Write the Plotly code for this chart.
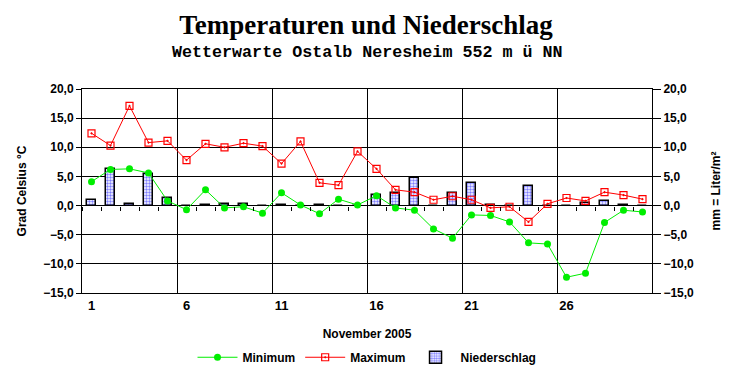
import plotly.graph_objects as go

days = list(range(1, 31))
t_min = [4.1, 6.2, 6.3, 5.6, 0.8, -0.7, 2.7, -0.4, -0.2, -1.3,
         2.2, 0.1, -1.4, 1.1, 0.1, 1.7, -0.4, -0.8, -4.0, -5.6,
         -1.6, -1.7, -2.8, -6.4, -6.6, -12.3, -11.6, -2.9, -0.8, -1.1]
t_max = [12.4, 10.3, 17.1, 10.8, 11.1, 7.8, 10.6, 10.0, 10.7, 10.2,
         7.2, 11.0, 3.9, 3.5, 9.3, 6.3, 2.7, 2.3, 1.0, 1.6,
         1.0, -0.4, -0.2, -2.8, 0.3, 1.3, 0.8, 2.3, 1.8, 1.1]
precip = [1.0, 6.3, 0.3, 5.4, 1.3, 0.0, 0.1, 0.3, 0.3, 0.0,
          0.1, 0.0, 0.1, 0.0, 0.0, 1.8, 2.2, 4.7, 0.0, 2.2,
          3.9, 0.1, 0.0, 3.4, 0.0, 0.0, 0.5, 0.8, 0.1, 0.0]
tick_days = [1, 6, 11, 16, 21, 26]
tick_labels = ["1", "6", "11", "16", "21", "26"]
minor_days = [d + 0.5 for d in range(0, 30)]

FONT = "Arial, Liberation Sans, sans-serif"
bold = dict(family=FONT, size=12, color="black", weight="bold")

fig = go.Figure()

# precipitation on the right (mm) axis, drawn beneath the temperature lines
fig.add_trace(go.Bar(
    x=days, y=precip, name="Niederschlag", yaxis="y", width=0.5,
    legendrank=3,
    marker=dict(color="white", line=dict(color="black", width=1.5),
                pattern=dict(shape=".", fgcolor="#0000ff", bgcolor="white",
                             size=3, solidity=0.5)),
))
fig.add_trace(go.Scatter(
    x=days, y=t_min, name="Minimum", mode="lines+markers", yaxis="y2",
    legendrank=1,
    line=dict(color="#00ee00", width=1),
    marker=dict(symbol="circle", size=7, color="#00ee00"),
))
fig.add_trace(go.Scatter(
    x=days, y=t_max, name="Maximum", mode="lines+markers", yaxis="y2",
    legendrank=2,
    line=dict(color="#ff0000", width=1),
    marker=dict(symbol="square-open-dot", size=7, color="#ff0000",
                line=dict(width=1.2)),
))
# carrier for the small ticks along the zero line
fig.add_trace(go.Scatter(x=[days[0]], y=[0], xaxis="x2", mode="markers",
                         marker=dict(opacity=0), showlegend=False,
                         hoverinfo="skip"))

axis_common = dict(range=[-15, 20], dtick=5, tickformat=".1f",
                   ticks="outside", tickcolor="black", tickfont=bold,
                   showline=True, linecolor="black", linewidth=1,
                   automargin=False)

fig.update_layout(
    width=732, height=380,
    margin=dict(l=82, r=80, t=89, b=87, autoexpand=False),
    paper_bgcolor="white", plot_bgcolor="white",
    separators=",.",
    showlegend=True,
    legend=dict(orientation="h", x=0.5, xanchor="center", y=-0.315,
                yanchor="middle", font=bold, itemwidth=40),
    title=dict(text="Temperaturen und Niederschlag", x=0.5, xref="container",
               xanchor="center", y=1 - 25 / 380, yanchor="middle",
               font=dict(family="Times New Roman, Liberation Serif, serif",
                         size=27, color="black", weight="bold")),
    annotations=[dict(text="Wetterwarte Ostalb Neresheim 552 m ü NN",
                      xref="paper", yref="paper", x=0.5, xanchor="center",
                      y=1 + (89.3 - 53) / 204, yanchor="middle",
                      showarrow=False,
                      font=dict(family="Courier New, Liberation Mono, monospace",
                                size=16.7, color="black", weight="bold"))],
    xaxis=dict(range=[0.5, 30.5], tickvals=tick_days, ticktext=tick_labels,
               showgrid=False, ticks="", tickfont=dict(family=FONT, size=13,
                                                       color="black", weight="bold"),
               showline=True, linecolor="black", linewidth=1, mirror=True,
               zeroline=False, automargin=False,
               minor=dict(tick0=0.5, dtick=5, showgrid=True, gridcolor="black",
                          gridwidth=1, ticks=""),
               title=dict(text="November 2005", font=bold, standoff=18)),
    xaxis2=dict(range=[0.5, 30.5], overlaying="x", anchor="free",
                position=15 / 35, side="bottom", tickvals=minor_days,
                showticklabels=False, ticks="outside", ticklen=4,
                tickcolor="black", tickwidth=1, showgrid=False,
                showline=False, zeroline=False, automargin=False),
    yaxis=dict(**axis_common, side="right", ticklen=8,
               showgrid=False, zeroline=False,
               title=dict(text="mm = Liter/m²", font=bold, standoff=18)),
    yaxis2=dict(**axis_common, overlaying="y", side="left", ticklen=5,
                showgrid=True, gridcolor="black", gridwidth=1,
                zeroline=True, zerolinecolor="black", zerolinewidth=1,
                title=dict(text="Grad Celsius °C", font=bold, standoff=14)),
    bargap=0,
)

fig.write_html("out.html",
               config={"displayModeBar": False},
               post_script="document.body.style.margin='0';"
                           "document.body.style.overflow='hidden';")
